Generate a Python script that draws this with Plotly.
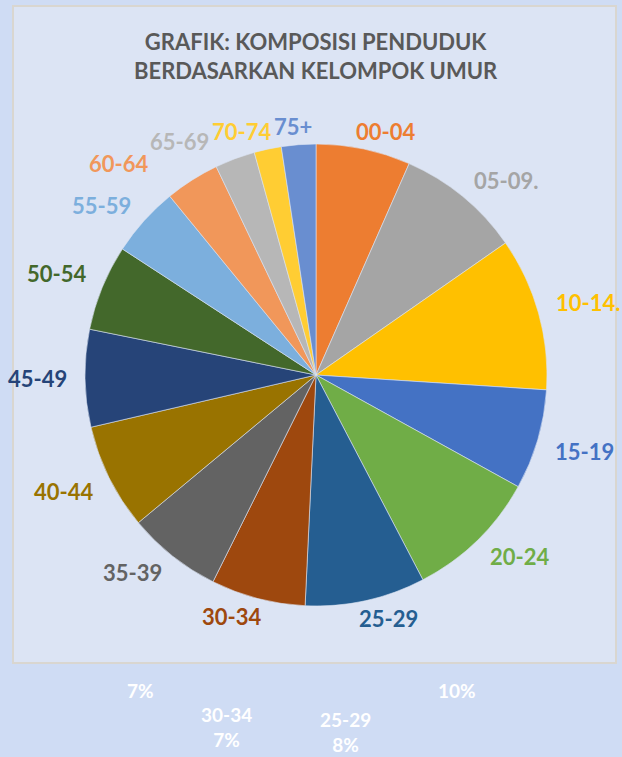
import math
import plotly.graph_objects as go

# kelompok umur dan persentase
age_groups = ["00-04", "05-09.", "10-14.", "15-19", "20-24", "25-29", "30-34", "35-39",
              "40-44", "45-49", "50-54", "55-59", "60-64", "65-69", "70-74", "75+"]
share = [6.6, 8.7, 10.7, 7.0, 9.3, 8.4, 6.6, 6.6, 7.4, 6.8, 6.0, 4.9, 3.8, 2.8, 1.9, 2.4]
colors = ["#ED7D31", "#A5A5A5", "#FFC000", "#4472C4", "#70AD47", "#255E91", "#9E480E", "#636363",
          "#997300", "#264478", "#43682B", "#7CAFDD", "#F1975A", "#B7B7B7", "#FFCD33", "#698ED0"]

# label putih dari grafik lain di belakang panel
ghost_text = ["7%", "30-34<br>7%", "25-29<br>8%", "10%"]
ghost_x = [140, 226, 345, 457]
ghost_y = [690, 727, 732, 690]

W, H = 622, 757
cx, cy, r = 316, 375, 231
fsize = 22

fig = go.Figure()
fig.add_trace(go.Pie(
    labels=age_groups,
    values=share,
    sort=False,
    direction="clockwise",
    rotation=0,
    marker=dict(colors=colors, line=dict(color="#dce4f4", width=0.6)),
    textinfo="none",
    showlegend=False,
    hoverinfo="label+value",
    domain=dict(x=[(cx - r) / W, (cx + r) / W],
                y=[(H - cy - r) / H, (H - cy + r) / H]),
))


def text_w(s):
    # perkiraan lebar teks Lato bold
    w = 0
    for ch in s:
        if ch == "-":
            w += 0.34
        elif ch == ".":
            w += 0.26
        else:
            w += 0.58
    return w * fsize


def clip(v):
    return max(-1.0, min(1.0, v))


# posisi label di luar pie: sudut kotak teks terdekat menempel pada elips di luar pie
total = sum(share)
rx, ry = r + 18, r + 7
boxes = []
acc = 0
for lab, v in zip(age_groups, share):
    mid = (acc + v / 2) / total * 2 * math.pi
    acc += v
    s, c = math.sin(mid), math.cos(mid)
    w, h = text_w(lab), fsize
    x = cx + rx * s + w / 2 * clip(3 * s)
    y = cy - ry * c - h / 2 * clip(3 * c)
    boxes.append([x, y, w, h])

# geser label kecil di kiri atas supaya tidak bertumpuk
for i in range(len(boxes) - 2, 10, -1):
    x, y, w, h = boxes[i]
    px, py, pw, ph = boxes[i + 1]
    if abs(y - py) < h and x + w / 2 > px - pw / 2 - 3:
        boxes[i][0] = px - pw / 2 - 3 - w / 2

for lab, col, (x, y, w, h) in zip(age_groups, colors, boxes):
    fig.add_annotation(x=x / W, y=1 - y / H, xref="paper", yref="paper",
                       text="<b>" + lab + "</b>", showarrow=False,
                       xanchor="center", yanchor="middle",
                       font=dict(family="Lato", size=fsize, color=col))

fig.add_shape(type="rect", xref="paper", yref="paper",
              x0=13 / W, x1=616 / W, y0=1 - 663 / H, y1=1 - 6 / H,
              fillcolor="#dce4f4", line=dict(color="#d9d6d0", width=2), layer="below")

fig.add_annotation(x=316 / W, y=1 - 56 / H, xref="paper", yref="paper",
                   text="<b>GRAFIK: KOMPOSISI PENDUDUK<br>BERDASARKAN KELOMPOK UMUR</b>",
                   showarrow=False, xanchor="center", yanchor="middle",
                   font=dict(family="Lato", size=22, color="#595959"))

for t, x, y in zip(ghost_text, ghost_x, ghost_y):
    fig.add_annotation(x=x / W, y=1 - y / H, xref="paper", yref="paper", text="<b>" + t + "</b>",
                       showarrow=False, xanchor="center", yanchor="middle",
                       font=dict(family="Lato", size=19, color="white"))

fig.update_layout(width=W, height=H, margin=dict(l=0, r=0, t=0, b=0),
                  paper_bgcolor="#cfdcf4", plot_bgcolor="#cfdcf4")

fig.write_html("out.html", config={"displayModeBar": False},
               post_script="document.body.style.margin='0';document.body.style.overflow='hidden';"
                           "document.body.style.background='#cfdcf4';")
